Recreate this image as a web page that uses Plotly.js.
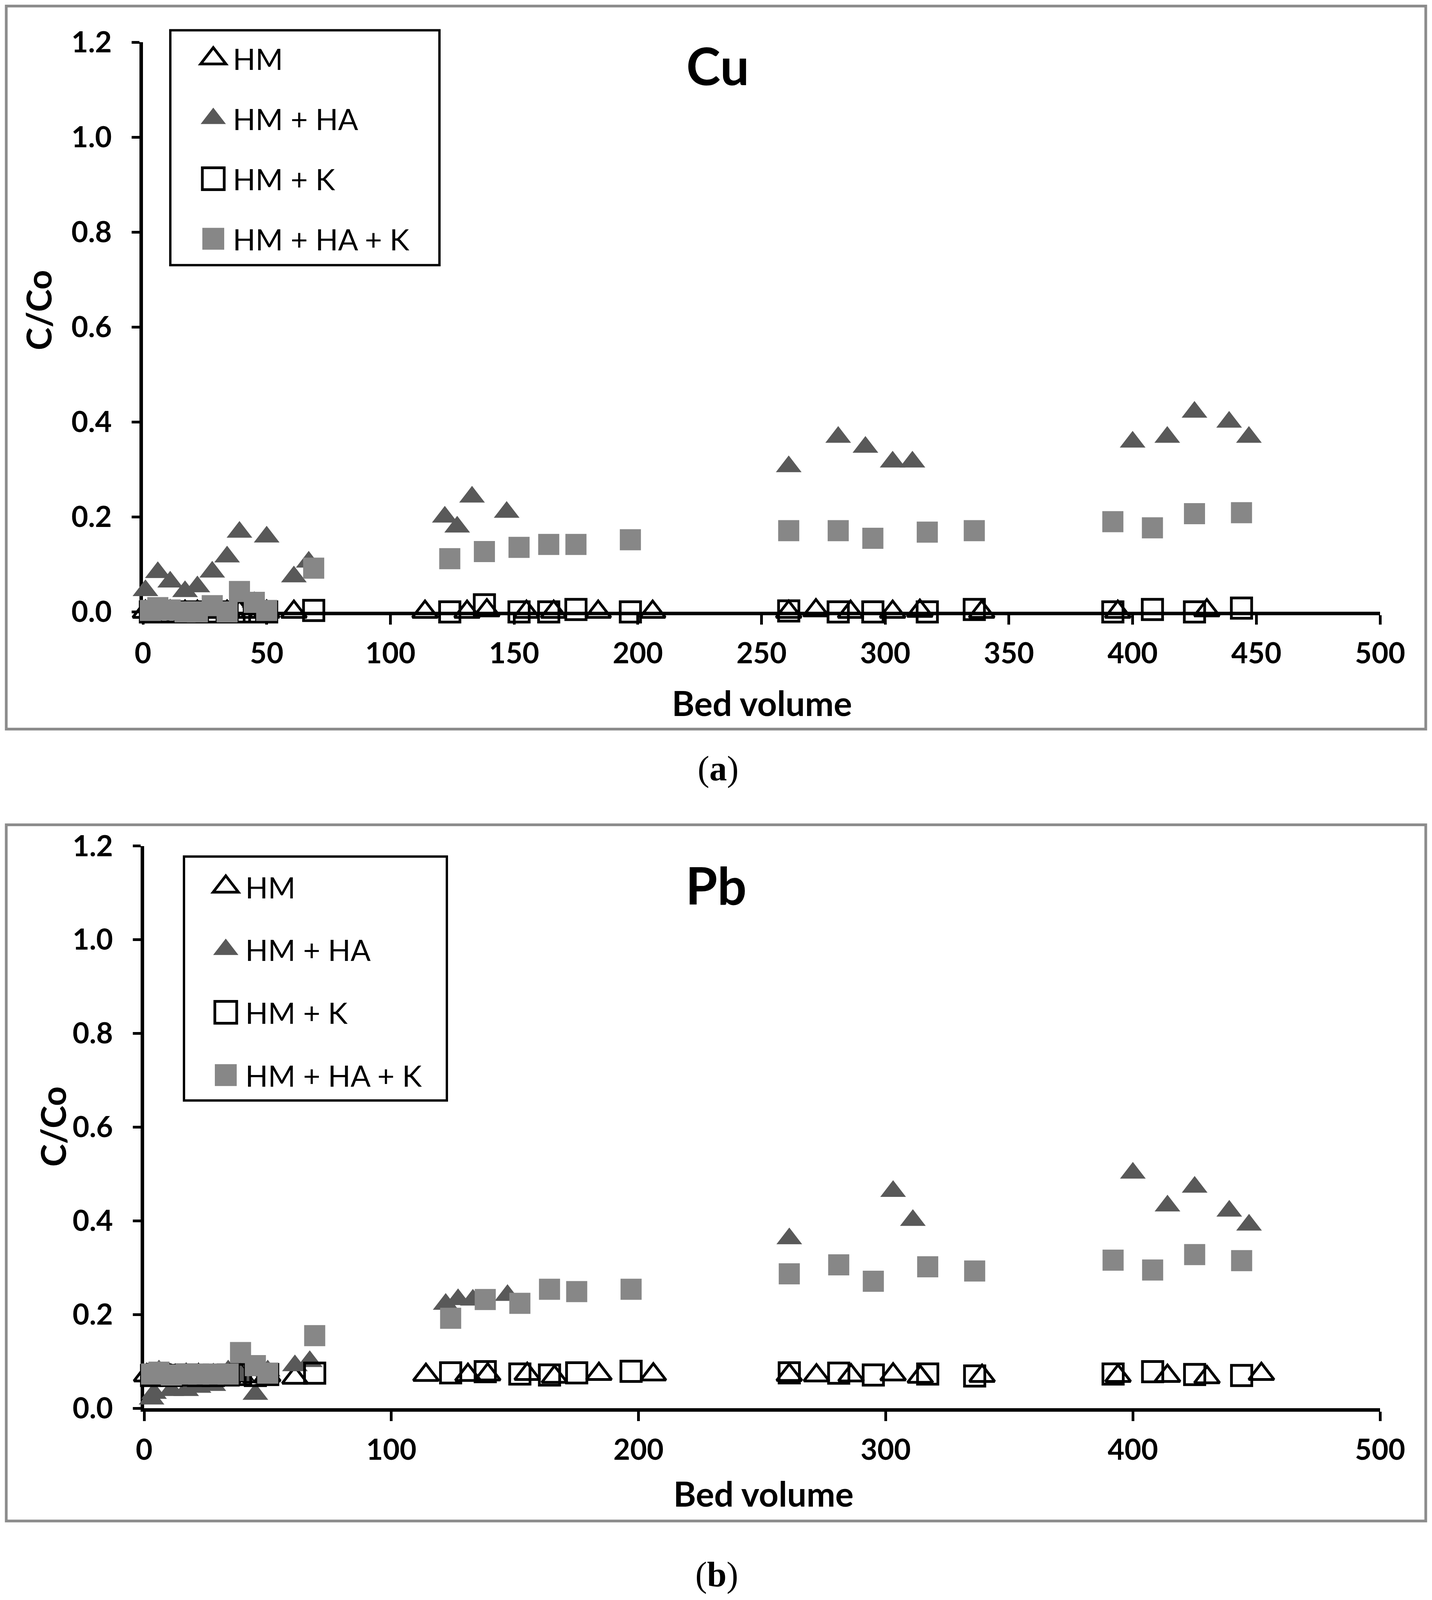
<!DOCTYPE html>
<html>
<head>
<meta charset="utf-8">
<script src="https://cdn.plot.ly/plotly-3.0.1.min.js"></script>
<style>
html,body{margin:0;padding:0;background:#ffffff;overflow:hidden;}
#chart{width:3666px;height:4231px;}
</style>
</head>
<body>
<div id="chart"></div>
<script>
// ---------------- data ----------------
var seriesNames = ["HM", "HM + HA", "HM + K", "HM + HA + K"];
var xTicksTop = [0, 50, 100, 150, 200, 250, 300, 350, 400, 450, 500];
var xTicksBottom = [0, 100, 200, 300, 400, 500];
var yTicks = [0, 0.2, 0.4, 0.6, 0.8, 1.0, 1.2];

// Cu panel (a)
var cuHM_x   = [1, 6, 11, 17, 22, 28, 34, 39, 45, 50, 61, 114, 131, 139, 155, 166, 184, 206, 261, 272, 286, 303, 314, 339, 394, 414, 430, 452];
var cuHM_y   = [0, 0, 0, 0, 0, 0, 0, 0, 0, 0, 0, 0, 0, 0.003, 0, 0, 0, 0, 0, 0.003, 0, 0, 0.002, 0, 0, -0.002, 0.003, -0.002];
var cuHA_x   = [1, 6, 11, 17, 22, 28, 34, 39, 45, 50, 61, 67, 122, 127, 133, 147, 261, 281, 292, 303, 311, 400, 414, 425, 439, 447];
var cuHA_y   = [0.045, 0.083, 0.063, 0.043, 0.053, 0.084, 0.116, 0.168, 0.02, 0.158, 0.074, 0.105, 0.20, 0.179, 0.242, 0.21, 0.306, 0.368, 0.347, 0.316, 0.316, 0.358, 0.368, 0.421, 0.40, 0.368];
var cuK_x    = [3, 6, 11, 17, 22, 28, 34, 39, 45, 50, 69, 124, 138, 152, 164, 175, 197, 261, 281, 295, 317, 336, 392, 408, 425, 444];
var cuK_y    = [0, 0, 0, 0, 0, 0, 0, 0, 0, 0, 0.003, 0, 0.015, 0, 0, 0.005, 0, 0.002, 0, 0, 0, 0.005, 0, 0.005, 0, 0.008];
var cuHAK_x  = [3, 6, 11, 17, 22, 28, 34, 39, 45, 50, 69, 124, 138, 152, 164, 175, 197, 261, 281, 295, 317, 336, 392, 408, 425, 444];
var cuHAK_y  = [0.003, 0.009, 0.004, 0, 0, 0.013, 0, 0.043, 0.02, 0.003, 0.092, 0.112, 0.127, 0.136, 0.142, 0.142, 0.152, 0.171, 0.171, 0.155, 0.168, 0.171, 0.19, 0.177, 0.207, 0.209];

// Pb panel (b)
var pbHM_x   = [1, 6, 11, 17, 22, 28, 34, 39, 45, 50, 61, 114, 131, 139, 155, 166, 184, 206, 261, 272, 286, 303, 314, 339, 394, 414, 430, 452];
var pbHM_y   = [0.07, 0.07, 0.068, 0.07, 0.07, 0.069, 0.068, 0.07, 0.068, 0.07, 0.065, 0.071, 0.071, 0.072, 0.073, 0.067, 0.073, 0.072, 0.071, 0.07, 0.07, 0.072, 0.067, 0.069, 0.069, 0.069, 0.066, 0.073];
var pbHA_x   = [3, 4, 6, 11, 17, 22, 28, 34, 39, 45, 50, 61, 67, 122, 127, 133, 147, 261, 303, 311, 400, 414, 425, 439, 447];
var pbHA_y   = [0.02, 0.032, 0.08, 0.038, 0.038, 0.045, 0.049, 0.08, 0.07, 0.03, 0.08, 0.091, 0.10, 0.222, 0.232, 0.231, 0.241, 0.362, 0.463, 0.401, 0.502, 0.432, 0.472, 0.421, 0.391];
var pbK_x    = [3, 6, 11, 17, 22, 28, 34, 39, 45, 50, 69, 124, 138, 152, 164, 175, 197, 261, 281, 295, 317, 336, 392, 408, 425, 444];
var pbK_y    = [0.07, 0.072, 0.07, 0.071, 0.07, 0.07, 0.071, 0.072, 0.07, 0.072, 0.075, 0.0755, 0.078, 0.073, 0.071, 0.0755, 0.079, 0.0755, 0.075, 0.071, 0.073, 0.069, 0.073, 0.078, 0.072, 0.07];
var pbHAK_x  = [3, 6, 11, 17, 22, 28, 34, 39, 45, 50, 69, 124, 138, 152, 164, 175, 197, 261, 281, 295, 317, 336, 392, 408, 425, 444];
var pbHAK_y  = [0.073, 0.077, 0.071, 0.073, 0.073, 0.073, 0.073, 0.119, 0.091, 0.075, 0.155, 0.192, 0.232, 0.224, 0.254, 0.249, 0.254, 0.287, 0.306, 0.271, 0.302, 0.293, 0.316, 0.295, 0.328, 0.315];

// ---------------- styling ----------------
var W = 3666, H = 4231;           // reference picture size (positions are given in its pixels)
function px(x){ return x / W; }
function py(y){ return 1 - y / H; }

var FONT = "Lato, 'Open Sans', sans-serif";
var styles = [
  {symbol: 'triangle-up-open', color: '#000000', size: 56, line: {width: 7, color: '#000000'}},
  {symbol: 'triangle-up', color: '#595959', size: 57, line: {width: 0}},
  {symbol: 'square-open', color: '#000000', size: 52, line: {width: 7, color: '#000000'}},
  {symbol: 'square', color: '#878787', size: 54, line: {width: 0}}
];

function mk(x, y, i, xa, ya, leg, grp){
  return {
    type: 'scatter', mode: 'markers', x: x, y: y, name: seriesNames[i],
    xaxis: xa, yaxis: ya, legend: leg, legendgroup: grp + i,
    marker: styles[i], cliponaxis: false, hoverinfo: 'skip'
  };
}

var data = [
  mk(cuHM_x, cuHM_y, 0, 'x', 'y', 'legend', 'a'),
  mk(cuHA_x, cuHA_y, 1, 'x', 'y', 'legend', 'a'),
  mk(cuK_x, cuK_y, 2, 'x', 'y', 'legend', 'a'),
  mk(cuHAK_x, cuHAK_y, 3, 'x', 'y', 'legend', 'a'),
  mk(pbHM_x, pbHM_y, 0, 'x2', 'y2', 'legend2', 'b'),
  mk(pbHA_x, pbHA_y, 1, 'x2', 'y2', 'legend2', 'b'),
  mk(pbK_x, pbK_y, 2, 'x2', 'y2', 'legend2', 'b'),
  mk(pbHAK_x, pbHAK_y, 3, 'x2', 'y2', 'legend2', 'b')
];

function xAxis(domain, ticks, anchor){
  return {
    domain: domain, range: [0, 500], anchor: anchor,
    tickmode: 'array', tickvals: ticks, ticktext: ticks.map(String),
    showline: true, linewidth: 9, linecolor: '#000000',
    ticks: 'outside', ticklen: 24, tickwidth: 7, tickcolor: '#000000',
    ticklabelstandoff: 10,
    tickfont: {family: FONT, size: 74, color: '#000000', weight: 700},
    showgrid: false, zeroline: false, layer: 'below traces', fixedrange: true
  };
}
function yAxis(domain, anchor){
  return {
    domain: domain, range: [0, 1.2], anchor: anchor,
    tickmode: 'array', tickvals: yTicks, ticktext: yTicks.map(function(v){ return v.toFixed(1); }),
    showline: true, linewidth: 9, linecolor: '#000000',
    ticks: 'outside', ticklen: 20, tickwidth: 7, tickcolor: '#000000',
    ticklabelstandoff: 36,
    tickfont: {family: FONT, size: 74, color: '#000000', weight: 700},
    showgrid: false, zeroline: false, layer: 'below traces', fixedrange: true
  };
}

var ITEMW = 100;
function legendCfg(x, y, gap){
  return {
    x: x, y: y, xanchor: 'left', yanchor: 'top',
    font: {family: FONT, size: 76, color: '#000000'},
    bgcolor: 'rgba(0,0,0,0)', borderwidth: 0,
    itemwidth: ITEMW, tracegroupgap: gap, traceorder: 'grouped',
    itemclick: false, itemdoubleclick: false
  };
}

function ann(text, x, y, size, extra){
  var a = {
    text: text, x: px(x), y: py(y), xref: 'paper', yref: 'paper',
    xanchor: 'center', yanchor: 'middle', showarrow: false,
    font: {family: FONT, size: size, color: '#000000', weight: 700}
  };
  for (var k in extra) a[k] = extra[k];
  return a;
}
var SERIF = "'Liberation Serif', 'DejaVu Serif', serif";

// fit the figure into the visible page (the viewport may be shorter than the window)
var figW = window.innerWidth || W;
var figH = window.innerHeight || H;
document.getElementById('chart').style.width = figW + 'px';
document.getElementById('chart').style.height = figH + 'px';

var layout = {
  width: figW, height: figH,
  margin: {l: 0, r: 0, t: 0, b: 0, pad: 0},
  paper_bgcolor: '#ffffff', plot_bgcolor: 'rgba(0,0,0,0)',
  showlegend: true,
  xaxis: xAxis([px(366), px(3533)], xTicksTop, 'y'),
  yaxis: yAxis([py(1618), py(112)], 'x'),
  xaxis2: xAxis([px(369), px(3533)], xTicksBottom, 'y2'),
  yaxis2: yAxis([py(3724), py(2237)], 'x2'),
  legend: legendCfg(px(598 - ITEMW - 12), py(97), 52),
  legend2: legendCfg(px(630 - ITEMW - 12), py(2287), 59),
  shapes: [
    {type: 'rect', xref: 'paper', yref: 'paper', x0: px(16), x1: px(3650), y0: py(1928), y1: py(16), line: {color: '#8c8c8c', width: 7}},
    {type: 'rect', xref: 'paper', yref: 'paper', x0: px(16), x1: px(3650), y0: py(4022), y1: py(2181), line: {color: '#8c8c8c', width: 7}},
    {type: 'rect', xref: 'paper', yref: 'paper', x0: px(436), x1: px(1125), y0: py(701), y1: py(80), line: {color: '#000000', width: 6}},
    {type: 'rect', xref: 'paper', yref: 'paper', x0: px(471), x1: px(1144), y0: py(2910), y1: py(2265), line: {color: '#000000', width: 6}}
  ],
  annotations: [
    ann('Cu', 1837, 173, 132),
    ann('Pb', 1833, 2340, 132),
    ann('C/Co', 98, 820, 88, {textangle: -90}),
    ann('C/Co', 135, 2979, 88, {textangle: -90}),
    ann('Bed volume', 1950, 1858, 88),
    ann('Bed volume', 1954, 3949, 88),
    {text: '(<b>a</b>)', x: px(1839), y: py(2033), xref: 'paper', yref: 'paper', showarrow: false,
     xanchor: 'center', yanchor: 'middle', font: {family: SERIF, size: 90, color: '#000000'}},
    {text: '(<b>b</b>)', x: px(1835), y: py(4164), xref: 'paper', yref: 'paper', showarrow: false,
     xanchor: 'center', yanchor: 'middle', font: {family: SERIF, size: 90, color: '#000000'}}
  ]
};

Plotly.newPlot('chart', data, layout, {displayModeBar: false, staticPlot: true}).then(function(gd){
  // enlarge legend symbols (Plotly caps them at 16 px) to match the plotted marker size
  gd.querySelectorAll('g.traces').forEach(function(tr){
    var txt = tr.querySelector('text.legendtext');
    var tx = txt ? parseFloat(txt.getAttribute('x')) : (ITEMW + 10);
    if (isNaN(tx)) tx = ITEMW + 10;
    tr.querySelectorAll('g.legendpoints path.scatterpts').forEach(function(p){
      p.setAttribute('transform', 'translate(' + (tx - 50) + ',0) scale(3.5)');
      p.style.vectorEffect = 'non-scaling-stroke';
      var sw = parseFloat(p.style.strokeWidth || '0');
      if (sw > 0) p.style.strokeWidth = '7px';
    });
  });
});
</script>
</body>
</html>
